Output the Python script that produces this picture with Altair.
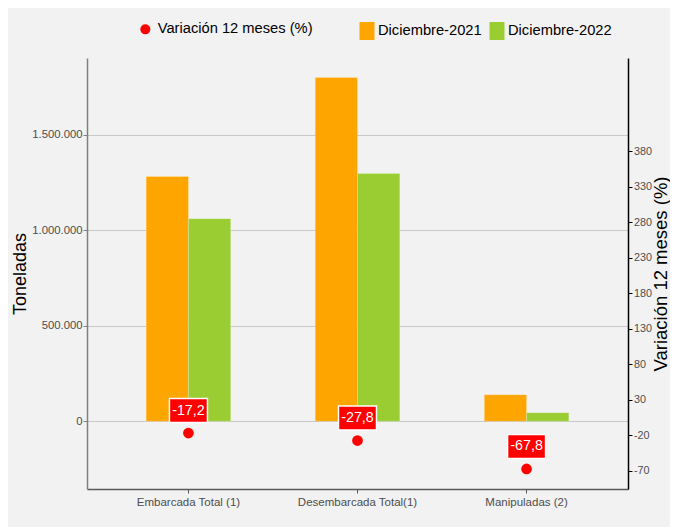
import altair as alt
import pandas as pd

# ---- data ----
categorias = ["Embarcada Total (1)", "Desembarcada Total(1)", "Manipuladas (2)"]
series_bar = ["Diciembre-2021", "Diciembre-2022"]
dic_2021 = [1281000, 1800000, 138000]
dic_2022 = [1060000, 1297000, 44500]
serie_var = "Variación 12 meses (%)"
variacion = [-17.2, -27.8, -67.8]
left_ticks = [0, 500000, 1000000, 1500000]
right_ticks = [-70, -20, 30, 80, 130, 180, 230, 280, 330, 380]

bars_df = pd.DataFrame({
    "cat": categorias * 2,
    "serie": [series_bar[0]] * 3 + [series_bar[1]] * 3,
    "ton": dic_2021 + dic_2022,
})
var_df = pd.DataFrame({"cat": categorias, "var": variacion, "serie": [serie_var] * 3})

FONT = "Liberation Sans, Arial, sans-serif"
GRAY_TXT = "#4D4D4D"
BOX = "M-1,-0.632H1V0.632H-1Z"
KEY = "M-0.8333,-1H0.8333V1H-0.8333Z"

x_enc = alt.X(
    "cat:N", sort=categorias,
    scale=alt.Scale(paddingInner=0.5, paddingOuter=0.35),
    axis=alt.Axis(title=None, labelAngle=0, labelFont=FONT, labelFontSize=11.5,
                  labelColor=GRAY_TXT, labelPadding=3, domainColor="#595959",
                  domainWidth=1.5, tickColor="#595959", tickSize=4, grid=False),
)

bars = alt.Chart(bars_df).mark_bar(stroke="white", strokeWidth=0.5, strokeOpacity=0.4).encode(
    x=x_enc,
    xOffset=alt.XOffset("serie:N", sort=series_bar),
    y=alt.Y("ton:Q", stack=None,
            scale=alt.Scale(domain=[-355000, 1901500], nice=False, zero=False),
            axis=alt.Axis(orient="left", values=left_ticks, format=",d", title="Toneladas",
                          titleFont=FONT, titleFontSize=18, titleFontWeight="normal",
                          titleColor="black", titlePadding=2,
                          labelFont=FONT, labelFontSize=11.3, labelColor=GRAY_TXT,
                          labelPadding=1, tickSize=4, tickColor="#808080",
                          domainColor="#808080", domainWidth=1.5,
                          grid=True, gridColor="#C8C8C8", gridWidth=1)),
    color=alt.Color("serie:N",
                    scale=alt.Scale(domain=series_bar, range=["#FFA500", "#9ACD32"]),
                    legend=alt.Legend(title=None, orient="none", legendX=271, legendY=-36,
                                      direction="horizontal", symbolType=KEY, symbolSize=324,
                                      symbolStrokeWidth=0, labelFont=FONT, labelFontSize=14.7,
                                      labelColor="black", labelOffset=2, columnPadding=6,
                                      labelLimit=400, padding=0)),
)

y_var = alt.Y("var:Q",
              scale=alt.Scale(domain=[-96, 511], nice=False, zero=False),
              axis=alt.Axis(orient="right", values=right_ticks, format="d",
                            title=serie_var, titleFont=FONT, titleFontSize=18.5,
                            titleFontWeight="normal", titleColor="black", titleAngle=270,
                            titleBaseline="top", titlePadding=0,
                            labelFont=FONT, labelFontSize=10.8, labelColor=GRAY_TXT,
                            labelPadding=1.5, tickSize=4, tickColor="black",
                            domainColor="black", domainWidth=1.5, grid=False))

points = alt.Chart(var_df).mark_circle(size=115, opacity=1).encode(
    x=x_enc, y=y_var,
    fill=alt.Fill("serie:N", scale=alt.Scale(domain=[serie_var], range=["#FF0000"]),
                  legend=alt.Legend(title=None, orient="none", legendX=51, legendY=-36,
                                    direction="horizontal", symbolType="circle", symbolSize=100,
                                    symbolStrokeWidth=0, labelFont=FONT, labelFontSize=14.7,
                                    labelColor="black", labelOffset=5, labelLimit=400,
                                    padding=0)),
)

boxes = alt.Chart(var_df).mark_point(shape=BOX, size=1444, filled=True, fill="#FF0000",
                                     stroke="white", strokeWidth=1.5, opacity=1,
                                     yOffset=-22.5).encode(x=x_enc, y=y_var)

labels = alt.Chart(var_df).mark_text(color="white", font=FONT, fontSize=14.3,
                                     baseline="middle", align="center",
                                     yOffset=-22.5).encode(
    x=x_enc, y=y_var, text=alt.Text("var:Q", format=".1f"))

right = alt.layer(points, boxes, labels)

chart = alt.layer(bars, right).resolve_scale(y="independent").properties(
    width=541, height=431,
    autosize=alt.AutoSizeParams(type="none"),
    padding={"left": 79, "top": 50, "right": 42, "bottom": 38},
    background="#F2F2F2",
).configure(
    locale={"number": {"decimal": ",", "thousands": ".", "grouping": [3],
                       "currency": ["", ""], "minus": "-"}}
).configure_view(stroke=None)

chart.save("out.html", embed_options={"renderer": "svg", "actions": False})
